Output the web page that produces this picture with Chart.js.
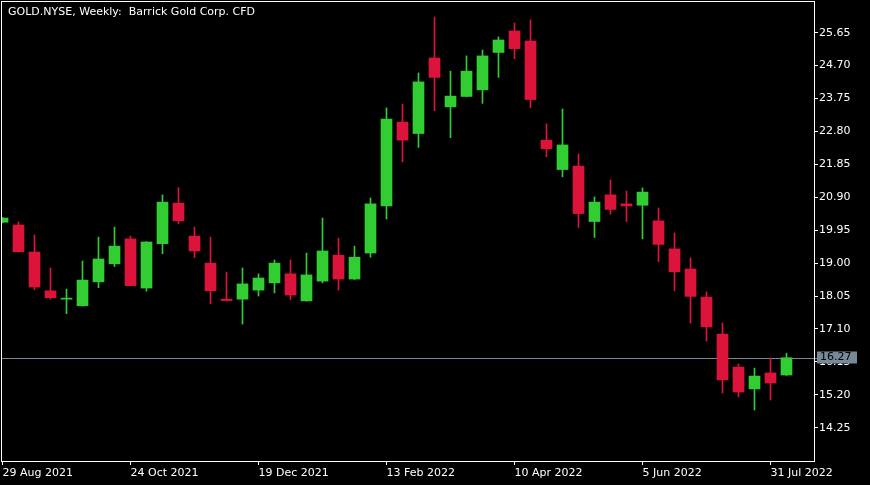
<!DOCTYPE html>
<html>
<head>
<meta charset="utf-8">
<title>GOLD.NYSE Weekly</title>
<script src="https://cdn.jsdelivr.net/npm/chart.js@4.4.1/dist/chart.umd.min.js"></script>
<style>
    html, body { margin: 0; padding: 0; background: #000; }
    #wrap { position: relative; width: 870px; height: 485px; }
    #title {
        position: absolute; left: 8px; top: 5px;
        font-family: "DejaVu Sans"; font-size: 11px; line-height: 13px;
        color: #fff; white-space: pre;
    }
</style>
</head>
<body>
<div id="wrap">
    <canvas id="chart" width="870" height="485"></canvas>
    <div id="title">GOLD.NYSE, Weekly:  Barrick Gold Corp. CFD</div>
</div>
<script>
// weekly candles, 29 Aug 2021 .. 7 Aug 2022
var opens  = [20.18, 20.10, 19.32, 18.20, 17.96, 17.77, 18.46, 18.98, 19.70, 18.28,
              19.56, 20.73, 19.78, 19.00, 17.96, 17.96, 18.22, 18.43, 18.69, 17.91,
              18.48, 19.23, 18.54, 19.29, 20.65, 23.07, 22.74, 24.92, 23.51, 23.81,
              24.00, 25.08, 25.70, 25.41, 22.55, 21.70, 21.80, 20.20, 20.97, 20.71,
              20.67, 20.22, 19.41, 18.83, 18.02, 16.95, 16.00, 15.37, 15.83, 15.77];
var highs  = [20.32, 20.19, 19.81, 18.86, 18.25, 19.06, 19.75, 20.04, 19.78, 19.62,
              20.97, 21.18, 20.04, 19.75, 18.74, 18.86, 18.69, 19.09, 19.09, 19.29,
              20.30, 19.72, 19.49, 20.88, 23.48, 23.59, 24.49, 26.10, 24.54, 24.98,
              25.15, 25.53, 25.93, 26.02, 23.02, 23.45, 22.15, 20.91, 21.40, 21.08,
              21.17, 20.59, 19.87, 19.15, 18.17, 17.27, 16.09, 15.97, 16.26, 16.40];
var lows   = [20.16, 19.32, 18.23, 17.96, 17.54, 17.76, 18.29, 18.90, 18.34, 18.19,
              19.27, 20.14, 19.16, 17.83, 17.91, 17.24, 18.05, 18.14, 17.94, 17.90,
              18.43, 18.22, 18.53, 19.17, 20.27, 21.92, 22.34, 23.40, 22.62, 23.80,
              23.61, 24.36, 24.90, 23.49, 22.07, 21.49, 20.03, 19.74, 20.41, 20.20,
              19.70, 19.04, 18.20, 17.27, 16.75, 15.25, 15.14, 14.76, 15.05, 15.76];
var closes = [20.30, 19.33, 18.31, 18.00, 17.99, 18.51, 19.12, 19.49, 18.35, 19.61,
              20.76, 20.22, 19.35, 18.20, 17.92, 18.40, 18.57, 19.00, 18.08, 18.66,
              19.35, 18.54, 19.17, 20.71, 23.16, 22.55, 24.23, 24.36, 23.82, 24.54,
              24.98, 25.44, 25.19, 23.72, 22.30, 22.41, 20.43, 20.76, 20.55, 20.65,
              21.05, 19.54, 18.75, 18.04, 17.16, 15.63, 15.28, 15.74, 15.54, 16.27];

// date labels on the time axis (week index -> text)
var tickWeeks  = [0, 8, 16, 24, 32, 40, 48];
var tickLabels = ['29 Aug 2021', '24 Oct 2021', '19 Dec 2021', '13 Feb 2022',
                  '10 Apr 2022', '5 Jun 2022', '31 Jul 2022'];
// price scale labels
var priceTicks = [14.25, 15.20, 16.15, 17.10, 18.05, 19.00, 19.95,
                  20.90, 21.85, 22.80, 23.75, 24.70, 25.65];
var lastPrice = 16.27;

var UP = '#32cd32', DOWN = '#dc143c', FG = '#ffffff', LAST = '#778899';
var FONT = {family: 'DejaVu Sans', size: 11};

var bodies = [], wicks = [], colors = [];
for (var i = 0; i < opens.length; i++) {
    bodies.push({x: i, y: [opens[i], closes[i]]});
    wicks.push({x: i, y: [lows[i], highs[i]]});
    colors.push(closes[i] >= opens[i] ? UP : DOWN);
}

// frame, last price line and its label
var terminalPlugin = {
    id: 'terminal',
    beforeDatasetsDraw: function (chart) {
        var ctx = chart.ctx, a = chart.chartArea;
        var y = Math.round(chart.scales.y.getPixelForValue(lastPrice)) + 0.5;
        ctx.save();
        ctx.strokeStyle = LAST;
        ctx.lineWidth = 1;
        ctx.beginPath();
        ctx.moveTo(a.left, y);
        ctx.lineTo(a.right + 4, y);
        ctx.stroke();
        ctx.restore();
    },
    afterDraw: function (chart) {
        var ctx = chart.ctx, a = chart.chartArea;
        var y = Math.round(chart.scales.y.getPixelForValue(lastPrice)) + 0.5;
        ctx.save();
        ctx.strokeStyle = FG;
        ctx.lineWidth = 1;
        ctx.strokeRect(a.left - 0.5, a.top - 0.5, a.right - a.left + 1, a.bottom - a.top + 1);
        ctx.fillStyle = LAST;
        ctx.fillRect(a.right + 3, y - 7, 40, 12);
        ctx.fillStyle = '#000';
        ctx.font = '11px "DejaVu Sans"';
        ctx.textBaseline = 'middle';
        ctx.fillText(lastPrice.toFixed(2), a.right + 6, y - 1);
        ctx.restore();
    }
};

new Chart(document.getElementById('chart'), {
    type: 'bar',
    data: {
        datasets: [
            {label: 'wick', data: wicks, backgroundColor: colors, barThickness: 1, grouped: false, order: 2},
            {label: 'body', data: bodies, backgroundColor: colors, barThickness: 11, grouped: false, order: 1}
        ]
    },
    options: {
        responsive: false,
        animation: false,
        devicePixelRatio: 1,
        layout: {padding: {left: 2, top: 2, right: 0, bottom: 0}},
        plugins: {
            legend: {display: false},
            tooltip: {enabled: false}
        },
        scales: {
            x: {
                type: 'linear',
                position: 'bottom',
                offset: false,
                min: -0.03125,
                max: 50.71875,
                grid: {offset: false, drawOnChartArea: false, drawTicks: true, tickLength: 4, color: FG},
                border: {display: false},
                ticks: {
                    color: FG, font: FONT, padding: 2, align: 'start',
                    maxRotation: 0, autoSkip: false,
                    callback: function (v) {
                        var k = tickWeeks.indexOf(v);
                        return k < 0 ? '' : tickLabels[k];
                    }
                },
                afterBuildTicks: function (s) {
                    s.ticks = tickWeeks.map(function (v) { return {value: v}; });
                },
                afterFit: function (s) {
                    s.height = 24;
                    s.paddingLeft = 0;
                    s.paddingRight = 0;
                }
            },
            y: {
                position: 'right',
                min: 13.289,
                max: 26.536,
                grid: {drawOnChartArea: false, drawTicks: true, tickLength: 4, color: FG},
                border: {display: false},
                ticks: {
                    color: FG, font: FONT, padding: 1,
                    callback: function (v) { return v.toFixed(2); }
                },
                afterBuildTicks: function (s) {
                    s.ticks = priceTicks.map(function (v) { return {value: v}; });
                },
                afterFit: function (s) {
                    s.width = 56;
                    s.paddingTop = 0;
                    s.paddingBottom = 0;
                }
            }
        }
    },
    plugins: [terminalPlugin]
});
</script>
</body>
</html>
